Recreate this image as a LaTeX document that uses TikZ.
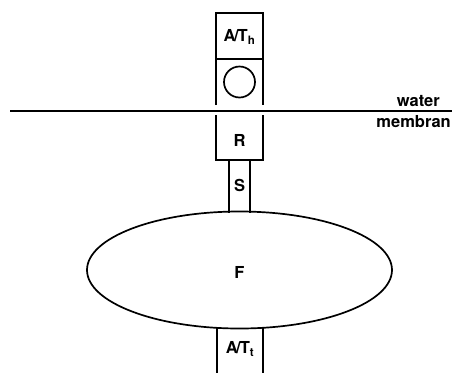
\documentclass[tikz,border=0pt]{standalone}
\usepackage{fontspec}
\setmainfont{TeX Gyre Heros}
\usetikzlibrary{shapes.geometric}
\begin{document}
\begin{tikzpicture}[x=1pt,y=-1pt,
  ln/.style={line width=1.7pt},
  lbl/.style={font=\fontsize{16.5}{18}\selectfont\bfseries, inner sep=0pt}]
\useasboundingbox (0,0) rectangle (452,373);
% top head box
\draw[ln] (216,105) -- (216,13) -- (263,13) -- (263,105);
\draw[ln] (216,59) -- (263,59);
\node[lbl] (ath) at (239.5,37) {A\kern-1.5pt/\kern-1pt T\textsubscript{h}};
\node[draw, circle, ln, minimum size=31pt, inner sep=0pt] (circ) at (239.5,82) {};
% water line
\draw[ln] (10,111) -- (452,111);
\node[lbl, anchor=base east] (water) at (440,106) {water};
\node[lbl, anchor=base east] (memb) at (451,127) {membran};
% R box
\draw[ln] (216,115) -- (216,160) -- (263,160) -- (263,115);
\node[lbl] (r) at (239.5,140) {R};
% ellipse
\node[draw, ellipse, ln, minimum width=305pt, minimum height=117pt, inner sep=0pt] (f) at (239.5,270) {};
\node[lbl] (flbl) at (239.5,272) {F};
% S stalk
\draw[ln] (229,160) -- (229,212.5);
\draw[ln] (250,160) -- (250,212.5);
\node[lbl] (s) at (239.5,185) {S};
% bottom tail box
\draw[ln] (217,328) -- (217,373);
\draw[ln] (263,328) -- (263,373);
\node[lbl] (att) at (240,349) {A\kern-1.5pt/\kern-1pt T\textsubscript{t}};
\end{tikzpicture}
\end{document}
